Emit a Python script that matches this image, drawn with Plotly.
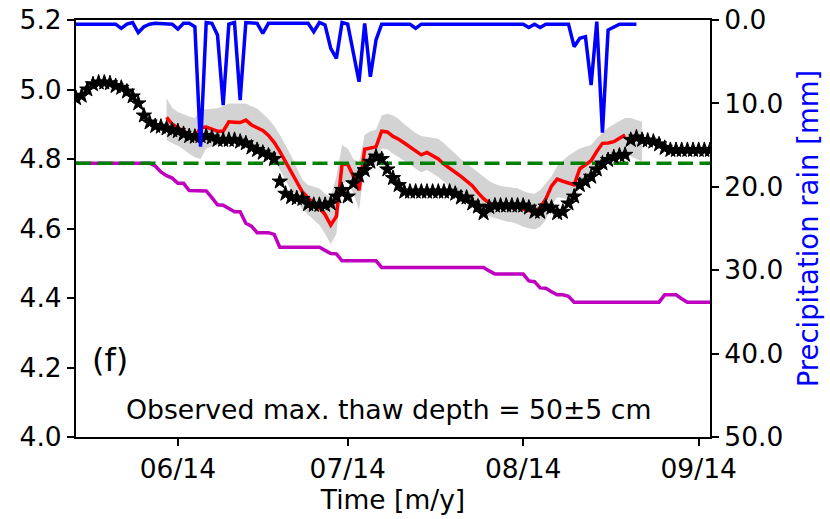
import pandas as pd
import plotly.graph_objects as go

# ---------------- data ----------------
start_date = "2014-05-14"      # first daily observation
model_start = "2014-05-30"     # first modelled day
tick_dates = ["2014-06-01", "2014-07-01", "2014-08-01", "2014-09-01"]
tick_labels = ["06/14", "07/14", "08/14", "09/14"]

observed = [4.975, 4.982, 5.000, 5.015, 5.020, 5.020, 5.018, 5.010, 5.005, 4.994,
            4.980, 4.960, 4.925, 4.905, 4.895, 4.893, 4.888, 4.883, 4.880, 4.872,
            4.866, 4.864, 4.866, 4.866, 4.862, 4.855, 4.855, 4.855, 4.855, 4.850,
            4.845, 4.833, 4.826, 4.818, 4.810, 4.800, 4.735, 4.700, 4.690, 4.687,
            4.685, 4.670, 4.668, 4.668, 4.668, 4.672, 4.692, 4.711, 4.692, 4.730,
            4.752, 4.768, 4.792, 4.807, 4.800, 4.770, 4.745, 4.725, 4.706, 4.706,
            4.706, 4.706, 4.706, 4.706, 4.706, 4.706, 4.706, 4.700, 4.689, 4.689,
            4.672, 4.663, 4.644, 4.662, 4.666, 4.666, 4.666, 4.666, 4.666, 4.666,
            4.660, 4.648, 4.648, 4.663, 4.660, 4.644, 4.648, 4.672, 4.692, 4.725,
            4.735, 4.749, 4.770, 4.787, 4.797, 4.805, 4.810, 4.812, 4.855, 4.862,
            4.855, 4.853, 4.850, 4.842, 4.832, 4.826, 4.826, 4.826, 4.826, 4.826,
            4.826, 4.826, 4.826]

lower_bound = [4.788, 4.788, 4.788, 4.788, 4.788, 4.788, 4.788, 4.788, 4.788, 4.788,
               4.788, 4.788, 4.788, 4.788, 4.780, 4.763, 4.752, 4.745, 4.730, 4.730,
               4.709, 4.709, 4.709, 4.708, 4.689, 4.668, 4.667, 4.657, 4.648, 4.648,
               4.615, 4.607, 4.588, 4.588, 4.588, 4.583, 4.546, 4.546, 4.546, 4.546,
               4.546, 4.546, 4.546, 4.546, 4.537, 4.528, 4.527, 4.507, 4.507, 4.507,
               4.507, 4.507, 4.507, 4.507, 4.488, 4.488, 4.488, 4.488, 4.488, 4.488,
               4.488, 4.488, 4.488, 4.488, 4.488, 4.488, 4.488, 4.488, 4.488, 4.488,
               4.488, 4.488, 4.488, 4.478, 4.469, 4.469, 4.469, 4.469, 4.469, 4.469,
               4.449, 4.447, 4.429, 4.428, 4.418, 4.409, 4.409, 4.405, 4.388, 4.388,
               4.388, 4.388, 4.388, 4.388, 4.388, 4.388, 4.388, 4.388, 4.388, 4.388,
               4.388, 4.388, 4.388, 4.388, 4.409, 4.409, 4.409, 4.398, 4.388, 4.388,
               4.388, 4.388, 4.388]

threshold_level = 4.788

model_mean = [4.920, 4.900, 4.890, 4.880, 4.872, 4.862, 4.890, 4.892, 4.886, 4.880,
              4.880, 4.907, 4.906, 4.905, 4.912, 4.898, 4.890, 4.882, 4.868, 4.848,
              4.822, 4.792, 4.764, 4.735, 4.705, 4.688, 4.672, 4.660, 4.640, 4.610,
              4.635, 4.785, 4.785, 4.750, 4.710, 4.828, 4.832, 4.835, 4.880, 4.878,
              4.865, 4.857, 4.846, 4.835, 4.822, 4.812, 4.819, 4.809, 4.800, 4.785,
              4.772, 4.762, 4.750, 4.737, 4.723, 4.703, 4.686, 4.673, 4.670, 4.668,
              4.667, 4.665, 4.662, 4.656, 4.652, 4.648, 4.660, 4.685, 4.722, 4.742,
              4.736, 4.730, 4.726, 4.772, 4.784, 4.795, 4.822, 4.845, 4.846, 4.850,
              4.860, 4.869]

model_upper = [4.975, 4.947, 4.935, 4.928, 4.922, 4.918, 4.941, 4.943, 4.945, 4.946,
               4.952, 4.960, 4.960, 4.960, 4.960, 4.952, 4.945, 4.930, 4.915, 4.895,
               4.870, 4.840, 4.810, 4.775, 4.740, 4.725, 4.720, 4.715, 4.700, 4.690,
               4.750, 4.840, 4.830, 4.800, 4.790, 4.870, 4.880, 4.885, 4.925, 4.930,
               4.925, 4.915, 4.900, 4.888, 4.875, 4.866, 4.864, 4.862, 4.858, 4.845,
               4.830, 4.815, 4.800, 4.788, 4.775, 4.762, 4.750, 4.737, 4.728, 4.722,
               4.720, 4.718, 4.716, 4.708, 4.702, 4.700, 4.711, 4.730, 4.750, 4.780,
               4.795, 4.810, 4.820, 4.830, 4.835, 4.840, 4.860, 4.875, 4.890, 4.900,
               4.910, 4.918, 4.918, 4.912, 4.907]

model_lower = [4.855, 4.845, 4.838, 4.828, 4.815, 4.805, 4.800, 4.830, 4.835, 4.840,
               4.848, 4.855, 4.855, 4.855, 4.860, 4.850, 4.840, 4.830, 4.815, 4.795,
               4.770, 4.740, 4.710, 4.680, 4.655, 4.640, 4.625, 4.610, 4.585, 4.555,
               4.585, 4.730, 4.735, 4.700, 4.655, 4.775, 4.780, 4.785, 4.830, 4.828,
               4.815, 4.805, 4.795, 4.785, 4.772, 4.762, 4.768, 4.758, 4.748, 4.735,
               4.720, 4.710, 4.700, 4.688, 4.673, 4.655, 4.640, 4.635, 4.630, 4.625,
               4.620, 4.618, 4.613, 4.605, 4.600, 4.598, 4.605, 4.625, 4.665, 4.690,
               4.688, 4.683, 4.678, 4.720, 4.735, 4.745, 4.770, 4.790, 4.795, 4.800,
               4.805, 4.810, 4.808, 4.800, 4.792]

rain_mm = [0.5, 0.5, 0.5, 0.5, 0.5, 0.5, 0.5, 0.5, 1.0, 0.5,
           0.3, 1.5, 0.8, 0.5, 0.4, 0.4, 0.5, 0.5, 1.1, 0.4,
           0.4, 0.8, 15.2, 0.3, 0.4, 1.8, 10.2, 0.5, 0.3, 9.6,
           0.3, 0.4, 0.4, 1.6, 0.4, 0.4, 0.4, 0.4, 0.4, 0.4,
           0.4, 0.4, 1.4, 0.3, 0.6, 3.4, 4.6, 0.3, 0.5, 4.0,
           7.4, 0.4, 6.8, 2.4, 0.5, 0.5, 0.5, 0.5, 0.5, 0.5,
           1.0, 0.5, 0.5, 0.5, 0.5, 0.5, 0.5, 0.5, 0.5, 0.5,
           0.5, 0.5, 0.5, 0.5, 0.5, 0.5, 0.5, 0.5, 0.5, 0.5,
           0.9, 0.5, 0.9, 0.5, 0.5, 0.5, 0.5, 0.5, 3.2, 2.2,
           2.0, 7.8, 0.2, 13.5, 1.2, 0.9, 0.5, 0.5, 0.5, 0.5]

left_ticks = [4.0, 4.2, 4.4, 4.6, 4.8, 5.0, 5.2]
right_ticks = [0, 10, 20, 30, 40, 50]

# ---------------- dates ----------------
obs_dates = pd.date_range(start_date, periods=len(observed), freq="D")
model_dates = pd.date_range(model_start, periods=len(model_mean), freq="D")
band_dates = pd.date_range(model_start, periods=len(model_upper), freq="D")
rain_dates = pd.date_range(start_date, periods=len(rain_mm), freq="D")

FONT = "DejaVu Sans"
FS = 26.5
fig = go.Figure()

fig.add_trace(go.Scatter(x=obs_dates, y=lower_bound, mode="lines",
                         line=dict(color="#bf00bf", width=3.5), showlegend=False))
fig.add_trace(go.Scatter(x=band_dates, y=model_upper, mode="lines",
                         line=dict(width=0, color="#d3d3d3"), showlegend=False))
fig.add_trace(go.Scatter(x=band_dates, y=model_lower, mode="lines", fill="tonexty",
                         fillcolor="#d3d3d3", line=dict(width=0, color="#d3d3d3"),
                         showlegend=False))
fig.add_trace(go.Scatter(x=model_dates, y=model_mean, mode="lines",
                         line=dict(color="#ff0000", width=3.5), showlegend=False))
fig.add_trace(go.Scatter(x=obs_dates, y=[threshold_level] * len(obs_dates), mode="lines",
                         line=dict(color="#008000", width=3.5, dash="15px,6.5px"),
                         showlegend=False))
fig.add_trace(go.Scatter(x=obs_dates, y=observed, mode="markers",
                         marker=dict(symbol="star", size=11.5, color="black",
                                     line=dict(color="black", width=1)),
                         showlegend=False))
fig.add_trace(go.Scatter(x=rain_dates, y=rain_mm, mode="lines", yaxis="y2",
                         line=dict(color="#0000ff", width=3.5), showlegend=False))

fig.update_layout(
    width=830, height=519,
    margin=dict(l=76, r=120, t=20, b=82, autoexpand=False),
    paper_bgcolor="white", plot_bgcolor="white",
    font=dict(family=FONT, size=FS, color="black"),
    xaxis=dict(
        range=[obs_dates[0], obs_dates[-1]], automargin=False,
        tickmode="array", tickvals=pd.to_datetime(tick_dates), ticktext=tick_labels,
        showline=True, linecolor="black", linewidth=2, mirror=True,
        ticks="outside", ticklen=7, tickwidth=2, tickcolor="black",
        showgrid=False, zeroline=False,
        title=dict(text="Time [m/y]", font=dict(size=FS), standoff=6),
    ),
    yaxis=dict(
        range=[4.0, 5.2], automargin=False, tickmode="array", tickvals=left_ticks,
        ticktext=[f"{v:.1f}" for v in left_ticks],
        showline=True, linecolor="black", linewidth=2,
        ticks="outside", ticklen=7, tickwidth=2, tickcolor="black",
        showgrid=False, zeroline=False,
    ),
    yaxis2=dict(
        range=[50, 0], overlaying="y", side="right", anchor="x", automargin=False,
        tickmode="array", tickvals=right_ticks,
        ticktext=[f"{v:.1f}" for v in right_ticks],
        showline=True, linecolor="black", linewidth=2,
        ticks="outside", ticklen=7, tickwidth=2, tickcolor="black",
        showgrid=False, zeroline=False,
        title=dict(text="Precipitation rain [mm]", font=dict(size=27.5, color="#0000ff"),
                   standoff=16),
    ),
    annotations=[
        dict(text="(f)", xref="paper", yref="paper", x=0.054, y=0.185,
             showarrow=False, font=dict(size=32), xanchor="center", yanchor="middle"),
        dict(text="Observed max. thaw depth = 50±5 cm", xref="paper", yref="paper",
             x=0.494, y=0.065, showarrow=False, font=dict(size=26.7),
             xanchor="center", yanchor="middle"),
    ],
)

fig.write_html("out.html", config={"displayModeBar": False},
               post_script="document.body.style.margin='0';document.body.style.padding='0';")
